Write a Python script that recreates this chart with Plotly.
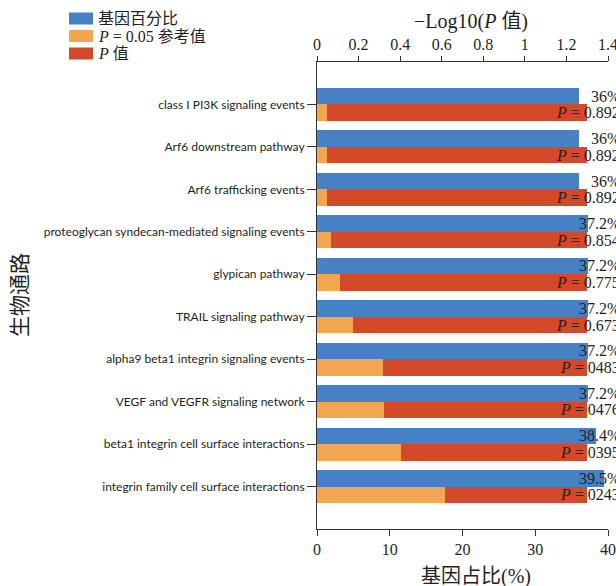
import math
import plotly.graph_objects as go

# Pathway enrichment results
pathways = [
    "class I PI3K signaling events",
    "Arf6 downstream pathway",
    "Arf6 trafficking events",
    "proteoglycan syndecan-mediated signaling events",
    "glypican pathway",
    "TRAIL signaling pathway",
    "alpha9 beta1 integrin signaling events",
    "VEGF and VEGFR signaling network",
    "beta1 integrin cell surface interactions",
    "integrin family cell surface interactions",
]
gene_pct = [36, 36, 36, 37.2, 37.2, 37.2, 37.2, 37.2, 38.4, 39.5]
p_values = [0.892, 0.892, 0.892, 0.854, 0.775, 0.673, 0.483, 0.476, 0.395, 0.243]
pct_labels = ["36%", "36%", "36%", "37.2%", "37.2%", "37.2%", "37.2%", "37.2%", "38.4%", "39.5%"]
p_labels = ["0.892", "0.892", "0.892", "0.854", "0.775", "0.673", "0483", "0476", "0395", "0243"]
p_ref = 0.05
top_ticks = [0, 0.2, 0.4, 0.6, 0.8, 1, 1.2, 1.4]
top_ticktext = ["0", "0.2", "0.4", "0.6", "0.8", "1", "1.2", "1.4"]
bottom_ticks = [0, 10, 20, 30, 40]

BLUE = "#4581c4"
ORANGE = "#f1a64f"
RED = "#d5492b"
TXT = "#231f20"
SERIF = "Liberation Serif, Noto Sans CJK SC, serif"
SANS = "Lato, Open Sans, sans-serif"

neglog = [-math.log10(p) for p in p_values]
ref_level = -math.log10(p_ref)
gap_to_ref = [ref_level - v for v in neglog]

pos = list(range(len(pathways)))
off = 0.195
bar_w = 0.39

# plot-area geometry (pixels) used for placing legend and titles
L, R, T, B = 317, 608, 62, 529


def px_x(p):
    return (p - L) / (R - L)


def px_y(p):
    return (B - p) / (B - T)


fig = go.Figure()
fig.add_trace(go.Bar(
    orientation="h", y=[i - off for i in pos], x=gene_pct, width=bar_w,
    marker=dict(color=BLUE, line=dict(width=0)), xaxis="x", yaxis="y",
    name="基因百分比", showlegend=False,
))
fig.add_trace(go.Bar(
    orientation="h", y=[i + off for i in pos], x=neglog, base=0, width=bar_w,
    marker=dict(color=ORANGE, line=dict(width=0)), xaxis="x2", yaxis="y",
    name="P = 0.05 参考值", showlegend=False,
))
fig.add_trace(go.Bar(
    orientation="h", y=[i + off for i in pos], x=gap_to_ref, base=neglog, width=bar_w,
    marker=dict(color=RED, line=dict(width=0)), xaxis="x2", yaxis="y",
    name="P 值", showlegend=False,
))

annotations = []
# value labels at the right edge
for i in pos:
    annotations.append(dict(
        x=px_x(622), xref="paper", y=i - off, yref="y", text=pct_labels[i],
        showarrow=False, xanchor="right", yanchor="middle",
        font=dict(family=SERIF, size=16, color=TXT),
    ))
    annotations.append(dict(
        x=px_x(622), xref="paper", y=i + off, yref="y",
        text="<i>P</i> = " + p_labels[i],
        showarrow=False, xanchor="right", yanchor="middle",
        font=dict(family=SERIF, size=16, color=TXT),
    ))

# axis titles
annotations.append(dict(
    x=px_x(471), xref="paper", y=px_y(21), yref="paper",
    text="−Log10(<i>P</i> 值)", showarrow=False, xanchor="center", yanchor="middle",
    font=dict(family=SERIF, size=20, color=TXT),
))
annotations.append(dict(
    x=px_x(476), xref="paper", y=px_y(576), yref="paper",
    text="基因占比(%)", showarrow=False, xanchor="center", yanchor="middle",
    font=dict(family=SERIF, size=20, color=TXT),
))
annotations.append(dict(
    x=px_x(20), xref="paper", y=px_y(295), yref="paper",
    text="生物通路", textangle=-90, showarrow=False, xanchor="center", yanchor="middle",
    font=dict(family=SERIF, size=21, color=TXT),
))

# legend
legend_items = [
    (BLUE, "基因百分比", 12.5, 24.5),
    (ORANGE, "<i>P</i> = 0.05 参考值", 30, 42),
    (RED, "<i>P</i> 值", 47.5, 59.5),
]
shapes = []
for color, label, y0, y1 in legend_items:
    shapes.append(dict(
        type="rect", xref="paper", yref="paper",
        x0=px_x(69), x1=px_x(93), y0=px_y(y1), y1=px_y(y0),
        fillcolor=color, line=dict(width=0),
    ))
    annotations.append(dict(
        x=px_x(96), xref="paper", y=px_y((y0 + y1) / 2), yref="paper",
        text=label, showarrow=False, xanchor="left", yanchor="middle",
        font=dict(family=SERIF, size=16, color=TXT),
    ))

fig.update_layout(
    width=616, height=586,
    margin=dict(l=L, r=616 - R, t=T, b=586 - B, autoexpand=False),
    paper_bgcolor="white", plot_bgcolor="white",
    barmode="overlay", bargap=0,
    showlegend=False,
    xaxis=dict(
        range=[0, 40], tickvals=bottom_ticks, ticks="outside", ticklen=6,
        tickcolor="#333", showline=True, linecolor="#333", linewidth=1,
        showgrid=False, zeroline=False, automargin=False,
        ticklabeloverflow="allow",
        tickfont=dict(family=SERIF, size=16, color=TXT),
    ),
    xaxis2=dict(
        range=[0, 1.4], tickvals=top_ticks, ticktext=top_ticktext,
        overlaying="x", side="top", anchor="y",
        ticks="outside", ticklen=5, tickcolor="#333",
        showline=True, linecolor="#333", linewidth=1,
        showgrid=False, zeroline=False, automargin=False,
        ticklabeloverflow="allow",
        tickfont=dict(family=SERIF, size=16, color=TXT),
    ),
    yaxis=dict(
        range=[10, -1], tickvals=pos, ticktext=pathways,
        ticks="outside", ticklen=9, tickcolor="#333",
        showline=True, linecolor="#333", linewidth=1,
        showgrid=False, zeroline=False, automargin=False,
        tickfont=dict(family=SANS, size=12, color=TXT),
    ),
    annotations=annotations,
    shapes=shapes,
)

fig.write_html("out.html")
